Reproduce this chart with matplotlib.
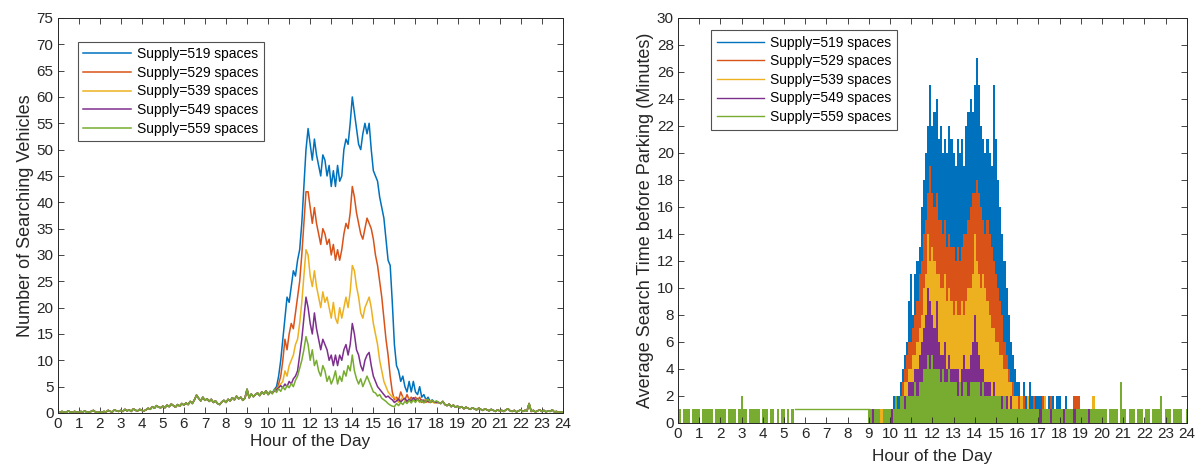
import numpy as np
import matplotlib
matplotlib.use("Agg")
import matplotlib.pyplot as plt

plt.rcParams["font.family"] = ["Liberation Sans", "DejaVu Sans"]

labels = ["Supply=519 spaces", "Supply=529 spaces", "Supply=539 spaces",
          "Supply=549 spaces", "Supply=559 spaces"]
colors = ["#0072BD", "#D95319", "#EDB120", "#7E2F8E", "#77AC30"]

# ---------------- left panel: number of searching vehicles (0.1 h samples) ----
# 0.0 .. 9.9 h, shared by all supplies (curves coincide)
veh_am = [0.2, 0.1, 0.3, 0.2, 0.1, 0.4, 0.2, 0.1, 0.3, 0.2,
          0.1, 0.3, 0.2, 0.4, 0.1, 0.2, 0.3, 0.5, 0.2, 0.1,
          0.2, 0.1, 0.3, 0.2, 0.5, 0.3, 0.2, 0.6, 0.4, 0.3,
          0.5, 0.3, 0.7, 0.4, 0.6, 0.3, 0.8, 0.5, 0.4, 0.7,
          0.5, 0.4, 0.6, 0.9, 0.7, 1.2, 0.9, 1.4, 1.1, 1.0,
          1.3, 1.0, 1.5, 1.2, 1.7, 1.4, 1.1, 1.6, 1.3, 1.8,
          1.5, 1.9, 1.6, 2.2, 1.8, 2.5, 3.4, 2.8, 2.3, 3.0,
          2.4, 2.7, 2.2, 2.6, 2.0, 2.3, 1.8, 1.6, 2.1, 2.4,
          2.0, 2.6, 2.3, 2.9, 2.5, 3.2, 2.7, 3.0, 2.4, 2.8,
          4.5, 2.9, 3.6, 3.1, 3.5, 3.8, 3.3, 4.0, 3.6, 4.2]
# 18.1 .. 24.0 h, shared
veh_pm = [2.0, 1.8, 2.2, 1.6, 1.4, 1.7, 1.2, 1.5, 1.1, 1.3,
          1.0, 1.2, 0.8, 1.1, 0.9, 0.7, 1.0, 0.8, 0.6, 0.9,
          0.7, 0.5, 0.8, 0.6, 0.4, 0.7, 0.5, 0.3, 0.6, 0.4,
          0.5, 0.3, 0.6, 0.8, 0.4, 0.3, 0.5, 0.2, 0.4, 0.6,
          0.3, 0.5, 0.4, 1.8, 0.3, 0.5, 0.2, 0.4, 0.6, 0.3,
          0.5, 0.2, 0.4, 0.3, 0.6, 0.2, 0.3, 0.1, 0.2, 0.1]
# 10.0 .. 18.0 h, per supply
veh_519 = [3.5, 4.0, 3.8, 4.5, 5.0, 7.0, 10, 14, 18, 22,
           21, 24, 27, 26, 29, 31, 36, 43, 50, 54,
           51, 48, 52, 49, 47, 45, 49, 48, 45, 47,
           43, 46, 43, 47, 44, 45, 50, 52, 51, 55,
           60, 57, 54, 51, 50, 53, 55, 53, 55, 50,
           46, 45, 44, 41, 39, 37, 33, 29, 28, 21,
           13, 9, 8, 6, 7, 5, 4, 6, 4, 6,
           4, 3.5, 5, 3, 3.5, 2.5, 3, 2.2, 2.5, 2, 2.2]
veh_529 = [3.5, 4.0, 3.8, 4.2, 4.5, 5.5, 7, 10, 14, 12,
           15, 17, 16, 19, 22, 25, 30, 36, 42, 42,
           39, 36, 39, 36, 34, 32, 35, 34, 32, 33,
           30, 32, 29, 31, 29, 31, 34, 36, 35, 38,
           43, 41, 38, 36, 34, 33, 35, 37, 36, 35,
           33, 30, 28, 25, 22, 18, 14, 11, 7, 4,
           2.5, 3, 2.5, 4, 3, 2.5, 3.5, 2.5, 3, 2.5,
           3, 2.5, 3, 2, 2.5, 2, 2.5, 2, 2.3, 2, 2]
veh_539 = [3.5, 4.0, 3.8, 4.2, 4.5, 5, 5.5, 6, 8, 7,
           9, 10, 11, 13, 14, 17, 21, 26, 31, 30,
           26, 24, 27, 24, 22, 20, 23, 21, 22, 20,
           18, 21, 18, 17, 20, 18, 20, 22, 20, 23,
           28, 27, 24, 22, 19, 18, 20, 21, 22, 20,
           17, 15, 13, 10, 8, 6, 5, 4, 3.5, 3,
           3, 2.5, 2, 2.5, 3, 2.5, 2, 2.8, 2.2, 2.5,
           2.2, 2.8, 2, 2.4, 2.1, 2.6, 2, 2.3, 2.1, 1.9, 2.0]
veh_549 = [3.5, 4.0, 3.8, 4.2, 4.4, 4.8, 5.2, 4.8, 5.5, 5,
           6, 5.5, 6.5, 7, 8, 11, 14, 18, 22, 20,
           17, 15, 19, 16, 14, 12, 14, 13, 12, 10,
           11, 9, 11, 9, 11, 10, 12, 13, 11, 13,
           17, 15, 12, 11, 9, 8, 10, 11, 11.5, 9,
           7, 6, 5, 4.5, 4, 3.5, 3, 3.2, 2.8, 2.5,
           2, 2.3, 2.6, 2.1, 2.5, 2.8, 2.2, 2.6, 2.3, 2.9,
           2.4, 2.7, 2.2, 2.5, 2.1, 2.4, 2.2, 2.0, 2.3, 2.1, 2.0]
veh_559 = [3.5, 4.2, 3.6, 4.5, 3.9, 4.6, 4.1, 5.0, 4.4, 5.2,
           4.8, 5.6, 5.0, 6.2, 7.0, 8.5, 10, 12, 14.5, 13,
           10, 12, 9, 10, 8, 7, 9, 8, 6, 7,
           5.5, 6.5, 8, 5.5, 7, 6, 8, 7, 9, 8,
           11, 8, 6.5, 5.5, 6.5, 5, 6, 7, 6, 5,
           4, 3.8, 3.2, 3.5, 2.8, 2.5, 2.2, 1.8, 1.5, 1.3,
           1.2, 1.8, 1.4, 2.0, 1.6, 2.2, 1.8, 2.4, 1.9, 2.5,
           2.0, 2.6, 2.1, 2.4, 1.9, 2.3, 2.6, 2.0, 2.4, 2.1, 2.3]

# ---------------- right panel: average search time (minutes, 0.1 h bins) ----
# 0.0 .. 8.9 h shared (green on top)
srch_am = [0, 1, 0, 1, 1, 1, 0, 1, 1, 1,
           1, 0, 1, 1, 1, 1, 1, 0, 1, 1,
           1, 1, 1, 0, 1, 1, 1, 1, 0, 1,
           2, 1, 1, 0, 1, 1, 1, 1, 1, 0,
           1, 1, 1, 0, 1, 1, 0, 1, 0, 1,
           1, 0, 1, 0, 1, 0, 0, 0, 0, 0,
           0, 0, 0, 0, 0, 0, 0, 0, 0, 0,
           0, 0, 0, 0, 0, 0, 0, 0, 0, 0,
           0, 0, 0, 0, 0, 0, 0, 0, 0, 0]
# stretch with no arrivals: the line simply stays at 1 minute
idle_hours = [5.5, 9.0]
idle_minutes = [1, 1]
# 20.1 .. 24.0 h shared
srch_pm = [1, 1, 0, 1, 1, 1, 1, 0, 3, 1,
           1, 0, 1, 1, 1, 0, 1, 1, 1, 0,
           1, 1, 0, 1, 1, 1, 1, 2, 0, 1,
           1, 1, 0, 1, 1, 1, 1, 0, 0, 1]
# 9.0 .. 20.0 h, per supply
srch_519 = [0, 1, 0, 1, 1, 0, 1, 1, 0, 1,
            1, 1, 2, 1, 2, 3, 4, 5, 6, 9,
            11, 8, 11, 12, 13, 16, 18, 20, 22, 25,
            22, 23, 24, 21, 22, 20, 21, 20, 22, 21,
            20, 19, 21, 20, 21, 19, 22, 23, 24, 23,
            25, 27, 25, 22, 21, 20, 21, 20, 19, 25,
            21, 18, 16, 14, 12, 10, 8, 6, 5, 4,
            3, 3, 2, 3, 2, 2, 3, 2, 2, 2,
            2, 2, 2, 2, 1, 2, 2, 2, 1, 2,
            2, 1, 1, 2, 1, 1, 0, 1, 1, 0,
            1, 0, 1, 1, 0, 1, 1, 0, 1, 1, 0]
srch_529 = [0, 0, 1, 0, 1, 1, 0, 1, 1, 0,
            1, 0, 1, 2, 1, 2, 3, 4, 5, 6,
            6, 7, 8, 9, 11, 12, 14, 15, 17, 19,
            17, 16, 17, 15, 15, 14, 15, 13, 14, 13,
            13, 12, 13, 12, 13, 14, 14, 15, 16, 17,
            17, 18, 17, 16, 15, 14, 15, 14, 13, 12,
            11, 10, 9, 8, 6, 5, 4, 3, 3, 2,
            2, 2, 1, 2, 1, 2, 1, 1, 2, 1,
            1, 1, 2, 1, 1, 1, 2, 1, 1, 1,
            1, 1, 1, 0, 1, 1, 1, 2, 2, 2,
            1, 0, 1, 1, 0, 1, 0, 1, 0, 1, 0]
srch_539 = [0, 1, 0, 0, 1, 0, 1, 0, 1, 1,
            1, 1, 0, 1, 1, 2, 2, 3, 3, 4,
            4, 5, 5, 6, 7, 8, 10, 11, 14, 12,
            13, 12, 11, 11, 10, 10, 11, 9, 10, 9,
            8, 9, 8, 8, 9, 8, 9, 10, 10, 11,
            14, 12, 11, 10, 11, 10, 9, 8, 7, 7,
            6, 6, 5, 5, 4, 4, 3, 3, 2, 2,
            2, 1, 2, 1, 1, 2, 1, 1, 1, 1,
            1, 1, 1, 2, 1, 1, 1, 1, 1, 1,
            1, 0, 1, 1, 1, 0, 1, 1, 1, 1,
            1, 0, 1, 1, 1, 1, 2, 1, 0, 1, 1]
srch_549 = [1, 0, 1, 1, 0, 1, 0, 1, 1, 1,
            1, 1, 0, 1, 1, 1, 2, 2, 2, 3,
            3, 3, 4, 4, 5, 6, 7, 8, 10, 9,
            8, 7, 9, 6, 5, 5, 6, 4, 5, 4,
            4, 4, 4, 3, 4, 5, 4, 4, 5, 6,
            8, 6, 5, 4, 4, 3, 3, 3, 2, 3,
            2, 2, 2, 2, 2, 2, 1, 2, 1, 1,
            1, 1, 1, 1, 1, 1, 1, 1, 1, 1,
            1, 1, 1, 1, 1, 1, 1, 1, 1, 1,
            1, 1, 1, 0, 1, 1, 1, 1, 0, 1,
            1, 1, 0, 1, 1, 1, 1, 0, 1, 1, 1]
srch_559 = [1, 1, 0, 1, 1, 1, 0, 1, 1, 1,
            1, 0, 1, 2, 1, 2, 2, 1, 2, 2,
            2, 2, 3, 2, 3, 3, 4, 4, 5, 4,
            5, 4, 4, 4, 3, 4, 3, 3, 4, 3,
            3, 3, 2, 3, 2, 3, 3, 2, 3, 3,
            3, 3, 3, 2, 3, 2, 2, 2, 2, 2,
            2, 2, 2, 1, 2, 1, 1, 1, 1, 1,
            1, 1, 1, 1, 1, 1, 1, 1, 1, 1,
            1, 0, 1, 1, 1, 1, 0, 1, 1, 1,
            1, 1, 0, 1, 1, 1, 1, 0, 1, 1,
            1, 1, 1, 1, 0, 1, 1, 1, 1, 1, 1]

hours = np.round(np.arange(0, 241) * 0.1, 1)
bin_edges = np.append(hours - 0.05, hours[-1] + 0.05)

veh = [veh_am + s + veh_pm for s in (veh_519, veh_529, veh_539, veh_549, veh_559)]
srch = [srch_am + s + srch_pm for s in (srch_519, srch_529, srch_539, srch_549, srch_559)]

AX_COLOR = "#262626"


def style(ax, ymax, ystep, xpad):
    ax.set_xlim(0, 24)
    ax.set_ylim(0, ymax)
    ax.set_xticks(range(0, 25))
    ax.set_yticks(np.arange(0, ymax + 0.1, ystep))
    ax.tick_params(direction="in", top=True, right=True, length=4, width=0.6,
                   colors=AX_COLOR, labelsize=11, pad=3)
    for sp in ax.spines.values():
        sp.set_color(AX_COLOR)
        sp.set_linewidth(0.7)
    ax.set_xlabel("Hour of the Day", fontsize=12.3, color=AX_COLOR, labelpad=xpad)


def add_legend(ax, handles, anchor):
    leg = ax.legend(handles, labels, loc="upper left", bbox_to_anchor=anchor,
                    borderaxespad=0, fancybox=False, edgecolor=AX_COLOR, fontsize=10,
                    handlelength=3.4, labelspacing=0.33, borderpad=0.4,
                    handletextpad=0.45)
    leg.get_frame().set_linewidth(0.8)
    return leg


fig = plt.figure(figsize=(12, 4.72), dpi=100)

ax1 = fig.add_axes([0.048, 0.125, 0.421, 0.837])
lines = []
for y, c, lab in zip(veh, colors, labels):
    lines += ax1.plot(hours, y, color=c, lw=1.1, label=lab)
style(ax1, 75, 5, 2)
ax1.set_ylabel("Number of Searching Vehicles", fontsize=13, color=AX_COLOR, labelpad=2)
add_legend(ax1, lines, (0.04, 0.94))

ax2 = fig.add_axes([0.565, 0.104, 0.424, 0.858])
for y, c in zip(srch, colors):
    ax2.stairs(y, bin_edges, fill=True, color=c, linewidth=0)
ax2.plot(idle_hours, idle_minutes, color=colors[4], lw=1.0)
style(ax2, 30, 2, 6)
ax2.set_ylabel("Average Search Time before Parking (Minutes)", fontsize=13,
               color=AX_COLOR, labelpad=2)
handles = [plt.Line2D([], [], color=c, lw=1.0) for c in colors]
add_legend(ax2, handles, (0.065, 0.97))

fig.savefig("out.png", dpi=100)
